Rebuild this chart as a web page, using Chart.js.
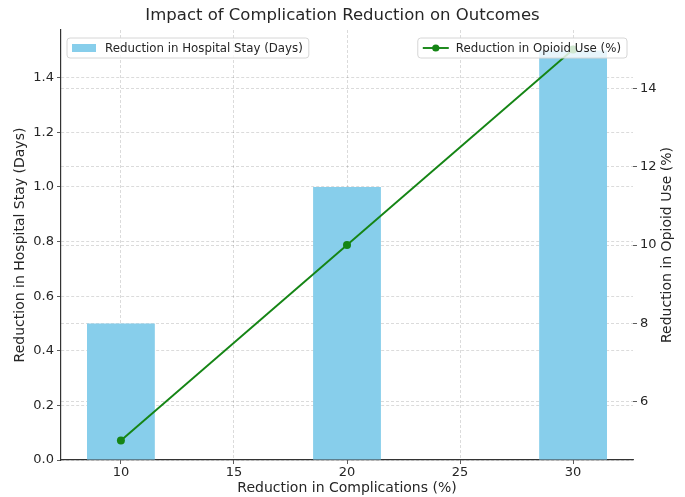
<!DOCTYPE html>
<html>
<head>
<meta charset="utf-8">
<script src="https://cdn.jsdelivr.net/npm/chart.js@4.4.1/dist/chart.umd.min.js"></script>
<style>
  html, body { margin: 0; padding: 0; background: #fff; }
  #wrap { width: 685px; height: 497px; }
</style>
</head>
<body>
<div id="wrap"><canvas id="myChart" width="685" height="497"></canvas></div>
<script>
// values
const complications = [10, 20, 30];
const hospitalStay = [0.5, 1.0, 1.5];
const opioidUse = [5, 10, 15];
const xTicks = [10, 15, 20, 25, 30];
const stayTicks = [0, 0.2, 0.4, 0.6, 0.8, 1.0, 1.2, 1.4];
const opioidTicks = [6, 8, 10, 12, 14];

const FONT = 'DejaVu Sans';
const TEXT = '#262626';
const GRID = 'rgba(0,0,0,0.18)';
const GREEN = '#158515';

// matplotlib style twin legends + right axis label
const extrasPlugin = {
  id: 'extras',
  afterDraw(chart) {
    const ctx = chart.ctx;
    const area = chart.chartArea;
    ctx.save();
    ctx.font = '11.8px "' + FONT + '"';
    ctx.textBaseline = 'middle';

    function box(x, y, w, h) {
      ctx.beginPath();
      ctx.roundRect(x, y, w, h, 3);
      ctx.fillStyle = 'rgba(255,255,255,0.8)';
      ctx.fill();
      ctx.strokeStyle = '#d6d6d6';
      ctx.lineWidth = 1;
      ctx.stroke();
    }

    // left legend (bars)
    const t1 = chart.data.datasets[1].label;
    const w1 = ctx.measureText(t1).width + 44;
    const bx = area.left + 6, by = area.top + 8, bh = 20;
    box(bx, by, w1, bh);
    ctx.fillStyle = chart.data.datasets[1].backgroundColor;
    ctx.fillRect(bx + 5, by + 6, 24, 8);
    ctx.fillStyle = TEXT;
    ctx.fillText(t1, bx + 38, by + bh / 2 + 0.5);

    // right legend (line)
    const t2 = chart.data.datasets[0].label;
    const w2 = ctx.measureText(t2).width + 44;
    const rx = area.right - 6 - w2;
    box(rx, by, w2, bh);
    ctx.strokeStyle = GREEN;
    ctx.lineWidth = 1.9;
    ctx.beginPath();
    ctx.moveTo(rx + 5, by + bh / 2);
    ctx.lineTo(rx + 31, by + bh / 2);
    ctx.stroke();
    ctx.fillStyle = GREEN;
    ctx.beginPath();
    ctx.arc(rx + 18, by + bh / 2, 3.6, 0, Math.PI * 2);
    ctx.fill();
    ctx.fillStyle = TEXT;
    ctx.fillText(t2, rx + 38, by + bh / 2 + 0.5);

    // right y axis title, reading bottom to top
    ctx.font = '14px "' + FONT + '"';
    ctx.textAlign = 'center';
    ctx.translate(667, (area.top + area.bottom) / 2);
    ctx.rotate(-Math.PI / 2);
    ctx.fillText('Reduction in Opioid Use (%)', 0, 0);
    ctx.restore();
  }
};

const ctx = document.getElementById('myChart').getContext('2d');

new Chart(ctx, {
  type: 'bar',
  data: {
    datasets: [{
      type: 'line',
      label: 'Reduction in Opioid Use (%)',
      data: complications.map((c, i) => ({ x: c, y: opioidUse[i] })),
      yAxisID: 'y1',
      borderColor: GREEN,
      backgroundColor: GREEN,
      borderWidth: 1.9,
      pointRadius: 4,
      pointBackgroundColor: GREEN,
      pointBorderWidth: 0,
      tension: 0,
      order: 0
    }, {
      label: 'Reduction in Hospital Stay (Days)',
      data: complications.map((c, i) => ({ x: c, y: hospitalStay[i] })),
      yAxisID: 'y',
      backgroundColor: '#87ceeb',
      barPercentage: 0.6,
      categoryPercentage: 1.0,
      order: 1
    }]
  },
  options: {
    responsive: false,
    animation: false,
    layout: { padding: 0 },
    plugins: {
      legend: { display: false },
      tooltip: { enabled: false },
      title: {
        display: true,
        text: 'Impact of Complication Reduction on Outcomes',
        color: TEXT,
        font: { family: FONT, size: 16.5, weight: 'normal' },
        padding: { top: 6, bottom: 4.2 }
      }
    },
    scales: {
      x: {
        type: 'linear',
        offset: false,
        min: 7.35,
        max: 32.65,
        afterBuildTicks: (s) => { s.ticks = xTicks.map(v => ({ value: v })); },
        afterFit: (s) => { s.height = 37; },
        ticks: { color: TEXT, font: { family: FONT, size: 13 }, padding: 1 },
        grid: { offset: false, color: GRID, tickColor: '#333', tickLength: 4, lineWidth: 0.8 },
        border: { color: '#333', width: 1.2, dash: [3, 2] },
        title: {
          display: true,
          text: 'Reduction in Complications (%)',
          color: TEXT,
          font: { family: FONT, size: 14 },
          padding: { top: 0, bottom: 0 }
        }
      },
      y: {
        position: 'left',
        min: 0,
        max: 1.575,
        afterBuildTicks: (s) => { s.ticks = stayTicks.map(v => ({ value: v })); },
        afterFit: (s) => { s.width = 61; },
        ticks: { color: TEXT, font: { family: FONT, size: 13 }, padding: 3, callback: (v) => v.toFixed(1) },
        grid: { color: GRID, tickColor: '#333', tickLength: 4, lineWidth: 0.8 },
        border: { color: '#333', width: 1.2, dash: [3, 2] },
        title: {
          display: true,
          text: 'Reduction in Hospital Stay (Days)',
          color: TEXT,
          font: { family: FONT, size: 14 },
          padding: { top: 11.6, bottom: 0 }
        }
      },
      y1: {
        position: 'right',
        min: 4.5,
        max: 15.5,
        afterBuildTicks: (s) => { s.ticks = opioidTicks.map(v => ({ value: v })); },
        afterFit: (s) => { s.width = 52; },
        ticks: { color: TEXT, font: { family: FONT, size: 13 }, padding: 3 },
        grid: { color: GRID, tickColor: '#333', tickLength: 4, lineWidth: 0.8 },
        border: { display: false, dash: [3, 2] }
      }
    }
  },
  plugins: [extrasPlugin]
});
</script>
</body>
</html>
